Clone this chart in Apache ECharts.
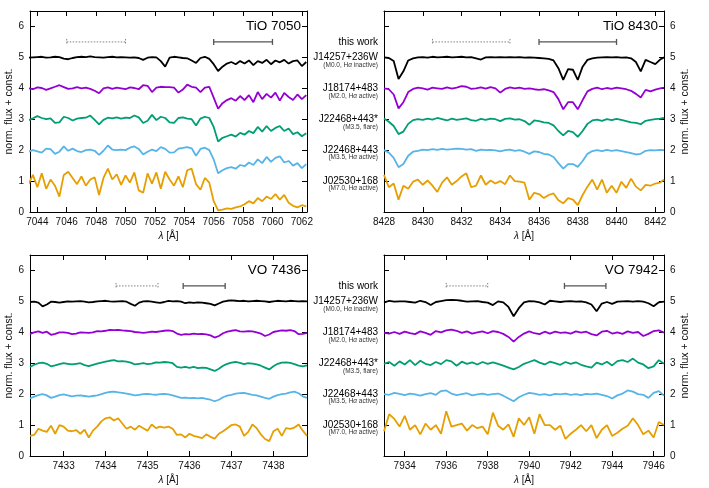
<!DOCTYPE html>
<html>
<head>
<meta charset="utf-8">
<title>TiO and VO band indices</title>
<script src="https://cdn.jsdelivr.net/npm/echarts@6.0.0/dist/echarts.min.js"></script>
<style>
  html, body { margin: 0; padding: 0; background: #fff; }
  #chart { width: 709px; height: 488px; }
</style>
</head>
<body>
<div id="chart"></div>
<script>
// ---- wavelength grids (Angstrom) ----
const wlTiO7050 = [
  7043.4, 7043.7, 7044.0, 7044.3, 7044.6, 7044.9, 7045.2, 7045.5, 7045.8, 7046.1,
  7046.4, 7046.7, 7047.0, 7047.3, 7047.6, 7047.9, 7048.2, 7048.5, 7048.8, 7049.1,
  7049.4, 7049.7, 7050.0, 7050.3, 7050.6, 7050.9, 7051.2, 7051.5, 7051.8, 7052.1,
  7052.4, 7052.7, 7053.0, 7053.3, 7053.6, 7053.9, 7054.2, 7054.5, 7054.8, 7055.1,
  7055.4, 7055.7, 7056.0, 7056.3, 7056.6, 7056.9, 7057.2, 7057.5, 7057.8, 7058.1,
  7058.4, 7058.7, 7059.0, 7059.3, 7059.6, 7059.9, 7060.2, 7060.5, 7060.8, 7061.1,
  7061.4, 7061.7, 7062.0, 7062.3
];
const wlTiO8430 = [
  8428.0, 8428.25, 8428.5, 8428.75, 8429.0, 8429.25, 8429.5, 8429.75, 8430.0, 8430.25,
  8430.5, 8430.75, 8431.0, 8431.25, 8431.5, 8431.75, 8432.0, 8432.25, 8432.5, 8432.75,
  8433.0, 8433.25, 8433.5, 8433.75, 8434.0, 8434.25, 8434.5, 8434.75, 8435.0, 8435.25,
  8435.5, 8435.75, 8436.0, 8436.25, 8436.5, 8436.75, 8437.0, 8437.25, 8437.5, 8437.75,
  8438.0, 8438.25, 8438.5, 8438.75, 8439.0, 8439.25, 8439.5, 8439.75, 8440.0, 8440.25,
  8440.5, 8440.75, 8441.0, 8441.25, 8441.5, 8441.75, 8442.0, 8442.25, 8442.45
];
const wlVO7436 = [
  7432.2, 7432.3, 7432.4, 7432.5, 7432.6, 7432.7, 7432.8, 7432.9, 7433.0, 7433.1,
  7433.2, 7433.3, 7433.4, 7433.5, 7433.6, 7433.7, 7433.8, 7433.9, 7434.0, 7434.1,
  7434.2, 7434.3, 7434.4, 7434.5, 7434.6, 7434.7, 7434.8, 7434.9, 7435.0, 7435.1,
  7435.2, 7435.3, 7435.4, 7435.5, 7435.6, 7435.7, 7435.8, 7435.9, 7436.0, 7436.1,
  7436.2, 7436.3, 7436.4, 7436.5, 7436.6, 7436.7, 7436.8, 7436.9, 7437.0, 7437.1,
  7437.2, 7437.3, 7437.4, 7437.5, 7437.6, 7437.7, 7437.8, 7437.9, 7438.0, 7438.1,
  7438.2, 7438.3, 7438.4, 7438.5, 7438.6, 7438.7, 7438.8
];
const wlVO7942 = [
  7933.0, 7933.25, 7933.5, 7933.75, 7934.0, 7934.25, 7934.5, 7934.75, 7935.0, 7935.25,
  7935.5, 7935.75, 7936.0, 7936.25, 7936.5, 7936.75, 7937.0, 7937.25, 7937.5, 7937.75,
  7938.0, 7938.25, 7938.5, 7938.75, 7939.0, 7939.25, 7939.5, 7939.75, 7940.0, 7940.25,
  7940.5, 7940.75, 7941.0, 7941.25, 7941.5, 7941.75, 7942.0, 7942.25, 7942.5, 7942.75,
  7943.0, 7943.25, 7943.5, 7943.75, 7944.0, 7944.25, 7944.5, 7944.75, 7945.0, 7945.25,
  7945.5, 7945.75, 7946.0, 7946.25, 7946.5
];

// ---- TiO 7050 : normalised flux + offset ----
const tio7050_J14257 = [
  4.99, 5.00, 5.01, 5.02, 4.99, 5.00, 5.02, 5.01, 4.96, 4.94,
  4.98, 5.01, 5.02, 5.01, 5.03, 5.01, 5.00, 4.99, 5.01, 5.02,
  5.00, 5.01, 5.00, 4.99, 5.00, 4.98, 4.92, 4.99, 5.01, 5.00,
  4.88, 4.70, 4.99, 5.02, 5.00, 4.98, 4.97, 4.90, 4.82, 4.98,
  5.02, 4.95, 4.78, 4.56, 4.70, 4.80, 4.85, 4.78, 4.88, 4.80,
  4.90, 4.75, 4.88, 4.82, 4.92, 4.78, 4.90, 4.84, 4.92, 4.80,
  4.88, 4.90, 4.72, 4.85
];
const tio7050_J18174 = [
  4.00, 3.97, 4.03, 4.01, 3.95, 4.00, 4.05, 4.10, 4.04, 3.98,
  4.00, 4.04, 4.00, 4.02, 3.98, 3.92, 3.84, 4.00, 4.03, 3.98,
  4.02, 4.00, 3.97, 4.03, 4.01, 3.97, 4.10, 4.08, 3.88, 4.02,
  4.05, 4.04, 4.04, 4.02, 3.86, 3.96, 4.12, 4.05, 4.02, 3.88,
  4.02, 4.05, 3.70, 3.34, 3.52, 3.62, 3.68, 3.60, 3.75, 3.62,
  3.78, 3.55, 3.88, 3.65, 3.82, 3.70, 3.86, 3.60, 3.85, 3.72,
  3.62, 3.80, 3.65, 3.78
];
const tio7050_J22468f = [
  2.97, 3.03, 3.10, 3.04, 3.00, 3.03, 2.88, 2.90, 3.08, 3.04,
  2.96, 3.02, 3.04, 3.05, 3.12, 2.98, 2.83, 2.98, 3.05, 3.03,
  3.06, 3.02, 3.05, 3.04, 3.12, 3.06, 2.88, 2.95, 3.14, 2.97,
  3.08, 3.04, 2.90, 2.88, 3.04, 3.06, 3.02, 3.00, 2.80, 3.02,
  3.08, 3.04, 2.75, 2.28, 2.40, 2.45, 2.50, 2.44, 2.56, 2.50,
  2.62, 2.55, 2.75, 2.60, 2.78, 2.62, 2.72, 2.78, 2.62, 2.70,
  2.52, 2.58, 2.45, 2.55
];
const tio7050_J22468 = [
  1.95, 2.00, 1.96, 1.92, 2.05, 2.03, 1.88, 1.95, 2.12, 1.98,
  2.05, 1.97, 1.94, 2.00, 2.02, 1.98, 1.85, 1.98, 2.15, 2.02,
  2.00, 2.02, 2.00, 2.08, 2.12, 2.04, 1.86, 1.95, 2.02, 1.97,
  2.10, 2.04, 1.92, 1.93, 2.05, 2.07, 2.10, 2.06, 1.82, 2.04,
  2.08, 2.00, 1.70, 1.25, 1.35, 1.42, 1.45, 1.40, 1.52, 1.48,
  1.60, 1.52, 1.70, 1.58, 1.78, 1.62, 1.75, 1.80, 1.60, 1.65,
  1.50, 1.58, 1.42, 1.55
];
const tio7050_J02530 = [
  0.90, 1.20, 0.80, 1.25, 0.75, 1.05, 0.85, 0.50, 1.20, 1.30,
  1.10, 0.90, 1.15, 0.85, 1.05, 1.12, 0.55, 1.10, 1.40, 1.05,
  1.22, 0.88, 1.18, 0.95, 1.28, 0.70, 0.62, 1.25, 0.92, 1.28,
  0.75, 1.30, 1.05, 0.85, 1.15, 0.80, 1.35, 1.40, 0.90, 0.72,
  1.10, 0.95, 0.35, 0.05, 0.08, 0.12, 0.10, 0.15, 0.18, 0.25,
  0.35, 0.28, 0.45, 0.35, 0.50, 0.42, 0.58, 0.40, 0.55, 0.30,
  0.20, 0.15, 0.22, 0.18
];

// ---- TiO 8430 ----
const tio8430_J14257 = [
  5.00, 4.98, 4.88, 4.30, 4.55, 4.90, 4.97, 5.00, 5.01, 4.99,
  5.02, 5.00, 5.01, 5.02, 5.00, 5.01, 5.02, 5.00, 5.01, 4.97,
  4.93, 5.00, 5.01, 5.00, 5.01, 5.00, 5.01, 5.00, 5.01, 4.99,
  5.00, 4.99, 4.98, 4.97, 4.95, 4.90, 4.65, 4.27, 4.62, 4.60,
  4.27, 4.70, 4.92, 4.97, 4.99, 5.00, 5.01, 5.00, 5.01, 4.99,
  5.00, 4.97, 4.85, 4.55, 4.92, 4.85, 4.78, 4.93, 5.00
];
const tio8430_J18174 = [
  4.00, 3.97, 3.80, 3.35, 3.55, 3.88, 3.98, 4.02, 4.00, 3.96,
  4.02, 4.00, 3.98, 4.03, 3.99, 4.02, 4.07, 4.05, 3.98, 4.00,
  4.03, 3.99, 4.04, 4.00, 3.86, 3.98, 4.03, 4.00, 4.02, 3.98,
  4.00, 3.97, 3.95, 3.97, 3.93, 3.88, 3.65, 3.32, 3.55, 3.55,
  3.32, 3.62, 3.90, 3.98, 4.02, 3.97, 4.01, 3.98, 4.02, 4.00,
  3.97, 3.92, 3.82, 3.70, 3.95, 3.90, 3.96, 4.00, 4.02
];
const tio8430_J22468f = [
  3.02, 2.92, 2.78, 2.52, 2.60, 2.85, 2.97, 3.00, 2.98, 3.02,
  2.99, 3.04, 3.00, 2.96, 3.02, 2.98, 3.00, 3.03, 2.97, 2.95,
  3.01, 2.98, 3.02, 3.00, 2.94, 3.01, 3.03, 2.99, 3.00, 2.94,
  2.82, 2.96, 2.94, 2.90, 2.88, 2.80, 2.62, 2.48, 2.62, 2.58,
  2.43, 2.62, 2.85, 2.96, 2.99, 2.95, 3.00, 2.97, 3.01, 2.98,
  2.94, 2.90, 2.88, 2.84, 2.95, 2.98, 3.00, 3.02, 3.04
];
const tio8430_J22468 = [
  2.00, 1.92, 1.75, 1.45, 1.55, 1.82, 1.95, 1.98, 2.02, 2.00,
  2.03, 2.01, 2.04, 2.02, 2.03, 2.05, 2.04, 2.02, 2.03, 1.98,
  2.02, 2.00, 2.01, 1.99, 1.96, 2.00, 2.02, 1.98, 2.00, 1.95,
  1.88, 1.96, 1.94, 1.88, 1.86, 1.78, 1.58, 1.40, 1.55, 1.55,
  1.46, 1.65, 1.88, 1.97, 2.00, 1.97, 2.01, 1.98, 2.00, 1.97,
  1.94, 1.90, 1.86, 1.88, 1.98, 2.00, 1.99, 2.01, 2.00
];
const tio8430_J02530 = [
  1.20, 0.80, 0.92, 0.40, 0.85, 0.75, 0.98, 1.05, 0.88, 1.02,
  0.85, 0.65, 0.95, 1.12, 0.88, 1.00, 1.15, 1.25, 0.80, 0.85,
  1.18, 0.88, 1.02, 0.92, 1.00, 0.90, 1.18, 1.00, 0.98, 0.95,
  0.40, 0.62, 0.58, 0.45, 0.55, 0.60, 0.38, 0.28, 0.45, 0.40,
  0.22, 0.55, 0.82, 1.05, 0.72, 1.05, 0.62, 0.85, 0.62, 0.98,
  0.78, 1.08, 0.82, 0.70, 0.88, 0.85, 0.92, 0.95, 1.05
];

// ---- VO 7436 ----
const vo7436_J14257 = [
  4.98, 4.99, 4.96, 4.84, 4.90, 4.99, 4.98, 4.96, 4.98, 5.00,
  4.99, 5.00, 5.01, 4.99, 4.97, 4.98, 5.00, 5.01, 5.02, 5.00,
  4.99, 5.00, 5.01, 4.99, 4.92, 4.86, 4.96, 5.00, 5.01, 4.99,
  4.97, 4.95, 4.98, 5.02, 5.00, 5.01, 4.99, 4.94, 4.97, 4.95,
  4.97, 4.96, 4.94, 4.92, 4.87, 4.93, 4.99, 5.02, 5.03, 5.02,
  5.01, 5.02, 5.00, 5.01, 5.02, 5.01, 5.00, 4.98, 5.00, 5.02,
  5.01, 5.00, 5.02, 5.01, 5.00, 5.01, 5.00
];
const vo7436_J18174 = [
  3.95, 4.00, 4.03, 3.98, 4.02, 3.92, 3.95, 4.00, 4.00, 3.98,
  3.94, 3.96, 4.00, 3.99, 3.98, 4.00, 4.04, 4.03, 4.05, 4.08,
  4.07, 4.08, 4.06, 4.05, 4.04, 4.01, 4.00, 3.98, 4.00, 4.02,
  4.01, 4.03, 4.05, 4.06, 4.04, 3.96, 3.92, 3.94, 3.93, 3.96,
  3.94, 3.95, 3.93, 3.90, 3.83, 3.88, 3.97, 4.02, 4.05, 4.07,
  4.03, 4.02, 4.04, 4.03, 4.00, 3.96, 3.88, 3.93, 4.01, 4.04,
  4.06, 4.05, 4.07, 4.04, 3.94, 3.95, 3.98
];
const vo7436_J22468f = [
  2.88, 2.95, 3.00, 3.02, 2.98, 2.90, 2.93, 2.97, 3.00, 2.98,
  2.96, 2.98, 3.00, 2.94, 2.91, 2.95, 2.99, 3.02, 3.05, 3.08,
  3.10, 3.06, 3.07, 3.05, 3.02, 2.96, 2.98, 3.00, 2.97, 2.99,
  3.03, 3.02, 3.04, 3.03, 3.00, 2.88, 2.86, 2.88, 2.85, 2.88,
  2.84, 2.86, 2.85, 2.80, 2.75, 2.82, 2.92, 2.98, 3.02, 3.04,
  3.01, 2.97, 3.00, 2.99, 2.96, 2.92, 2.86, 2.80, 2.90, 2.98,
  3.02, 3.03, 3.01, 2.97, 2.92, 2.90, 2.93
];
const vo7436_J22468 = [
  1.86, 1.92, 1.97, 2.00, 1.96, 1.88, 1.92, 1.97, 1.99, 1.96,
  1.93, 1.95, 1.96, 1.94, 1.92, 1.94, 1.96, 2.00, 2.04, 2.07,
  2.08, 2.06, 2.04, 2.02, 1.99, 1.96, 1.98, 2.00, 2.01, 1.99,
  1.98, 2.00, 2.01, 1.99, 1.96, 1.92, 1.88, 1.89, 1.87, 1.88,
  1.86, 1.88, 1.85, 1.82, 1.77, 1.82, 1.90, 1.95, 1.98, 2.02,
  2.03, 2.04, 2.01, 1.98, 1.96, 1.92, 1.88, 1.85, 1.92, 1.97,
  2.00, 2.02, 2.06, 2.08, 2.03, 1.93, 1.88
];
const vo7436_J02530 = [
  0.65, 0.68, 0.88, 0.82, 0.78, 0.98, 0.72, 1.00, 0.95, 0.82,
  0.80, 0.84, 0.72, 0.85, 0.60, 0.82, 0.95, 1.12, 1.22, 1.25,
  1.15, 1.22, 1.05, 0.88, 0.95, 0.85, 0.98, 0.90, 0.82, 1.02,
  0.90, 0.95, 0.92, 0.95, 0.88, 0.68, 0.70, 0.60, 0.72, 0.65,
  0.62, 0.58, 0.70, 0.62, 0.56, 0.72, 0.80, 0.90, 1.00, 1.02,
  0.95, 0.65, 0.78, 1.02, 0.90, 0.70, 0.55, 0.48, 0.80, 0.88,
  0.65, 0.90, 0.88, 0.92, 1.02, 0.82, 0.65
];

// ---- VO 7942 ----
const vo7942_J14257 = [
  4.96, 5.02, 4.99, 5.00, 5.00, 4.98, 4.96, 5.02, 4.98, 4.88,
  4.98, 5.01, 5.04, 5.05, 5.04, 5.02, 4.99, 5.00, 5.01, 4.98,
  4.96, 4.88, 5.00, 4.97, 4.82, 4.52, 4.78, 4.97, 5.01, 5.00,
  4.97, 4.90, 5.02, 5.00, 4.98, 5.00, 5.01, 4.99, 5.00, 4.97,
  4.90, 4.68, 4.93, 4.98, 4.92, 4.99, 5.00, 5.01, 4.99, 5.01,
  4.99, 4.94, 4.84, 4.97, 4.99
];
const vo7942_J18174 = [
  3.98, 3.96, 4.01, 3.95, 4.02, 3.97, 3.94, 4.03, 3.98, 3.92,
  4.04, 4.00, 4.06, 4.09, 4.05, 3.98, 4.03, 3.96, 4.00, 4.03,
  3.97, 4.04, 4.01, 3.95, 3.85, 3.70, 3.85, 3.96, 4.03, 3.97,
  3.94, 4.02, 3.96, 4.02, 3.98, 4.00, 3.96, 4.03, 3.99, 4.02,
  3.94, 3.90, 4.02, 4.05, 3.96, 4.00, 3.95, 4.03, 3.98, 4.01,
  3.88, 3.95, 4.04, 4.06, 3.99
];
const vo7942_J22468f = [
  2.98, 3.04, 2.92, 3.06, 2.96, 3.10, 2.94, 3.08, 2.98, 2.94,
  3.04, 2.97, 3.10, 3.06, 2.92, 3.05, 2.98, 3.03, 2.96, 3.04,
  2.98, 3.03, 2.98, 2.92, 2.86, 2.80, 2.88, 2.98, 3.04, 3.10,
  3.02, 2.96, 3.05, 3.00, 2.95, 3.04, 2.98, 3.03, 2.95, 2.90,
  2.86, 3.02, 2.96, 3.05, 2.93, 3.07, 3.10, 3.04, 3.15, 3.02,
  2.96, 2.84, 2.90, 3.10, 2.98
];
const vo7942_J22468 = [
  2.00, 1.98, 2.04, 2.01, 1.97, 2.02, 1.99, 1.95, 2.00, 2.03,
  1.98, 2.10, 2.12, 2.02, 1.97, 2.00, 2.03, 1.96, 1.99, 2.02,
  1.98, 2.00, 2.02, 1.95, 1.86, 1.77, 1.90, 1.98, 2.04, 2.02,
  1.98, 2.00, 1.96, 2.01, 1.99, 2.02, 1.98, 2.00, 1.97, 2.01,
  1.99, 2.02, 1.98, 1.94, 1.86, 1.96, 2.02, 2.12, 2.08, 2.00,
  1.98, 1.88, 2.04, 2.10, 1.95
];
const vo7942_J02530 = [
  0.80, 1.35, 1.20, 0.95, 1.30, 0.85, 1.00, 0.70, 1.05, 0.85,
  1.00, 0.72, 1.45, 0.95, 1.00, 1.05, 0.82, 1.00, 0.90, 0.95,
  0.70, 1.40, 0.98, 0.85, 1.02, 0.62, 1.22, 1.00, 1.25, 0.72,
  1.35, 1.00, 1.00, 0.85, 0.98, 0.55, 0.72, 0.85, 1.00, 0.80,
  1.00, 0.58, 0.85, 1.00, 0.65, 0.75, 0.88, 0.98, 1.22, 1.00,
  0.70, 0.82, 0.60, 1.10, 1.00
];

// continuum (dotted) and band (solid) windows used in this work
const contTiO7050 = [7046, 7050], bandTiO7050 = [7056, 7060];
const contTiO8430 = [8430.5, 8434.5], bandTiO8430 = [8436, 8440];
const contVO7436 = [7434.25, 7435.25], bandVO7436 = [7435.85, 7436.85];
const contVO7942 = [7936, 7938], bandVO7942 = [7941.7, 7943.7];
const windowLevel = 5.5;

const starNames = ['J14257+236W', 'J18174+483', 'J22468+443*', 'J22468+443', 'J02530+168'];
const starNotes = ['(M0.0, H{i|α} inactive)', '(M2.0, H{i|α} active)', '(M3.5, flare)',
  '(M3.5, H{i|α} active)', '(M7.0, H{i|α} active)'];
const starOffsets = [5, 4, 3, 2, 1];
const colors = ['#000000', '#9400d3', '#009e73', '#56b4e9', '#e69f00'];
const yTicks = [0, 1, 2, 3, 4, 5, 6];

const FONT = '"Liberation Sans", Arial, Helvetica, sans-serif';

const panels = [
  { title: 'TiO 7050', wl: wlTiO7050, min: 7043.5, max: 7062.35, step: 2, cont: contTiO7050, band: bandTiO7050,
    flux: [tio7050_J14257, tio7050_J18174, tio7050_J22468f, tio7050_J22468, tio7050_J02530],
    grid: { left: 30, top: 11, width: 277, height: 201 }, side: 'left' },
  { title: 'TiO 8430', wl: wlTiO8430, min: 8428, max: 8442.45, step: 2, cont: contTiO8430, band: bandTiO8430,
    flux: [tio8430_J14257, tio8430_J18174, tio8430_J22468f, tio8430_J22468, tio8430_J02530],
    grid: { left: 384, top: 11, width: 280, height: 201 }, side: 'right' },
  { title: 'VO 7436', wl: wlVO7436, min: 7432.2, max: 7438.8, step: 1, cont: contVO7436, band: bandVO7436,
    flux: [vo7436_J14257, vo7436_J18174, vo7436_J22468f, vo7436_J22468, vo7436_J02530],
    grid: { left: 30, top: 255, width: 277, height: 201 }, side: 'left' },
  { title: 'VO 7942', wl: wlVO7942, min: 7933.0, max: 7946.5, step: 2, cont: contVO7942, band: bandVO7942,
    flux: [vo7942_J14257, vo7942_J18174, vo7942_J22468f, vo7942_J22468, vo7942_J02530],
    grid: { left: 384, top: 255, width: 280, height: 201 }, side: 'right' }
];

function onStep(v, step) {
  return Math.abs(v / step - Math.round(v / step)) < 1e-6;
}

const axisLine = { show: true, onZero: false, lineStyle: { color: '#000', width: 1 } };
const axisTick = { show: true, inside: true, length: 5, lineStyle: { color: '#000', width: 1 } };

const grids = [], xAxes = [], yAxes = [], series = [];

panels.forEach((p, g) => {
  grids.push(Object.assign({ outerBoundsMode: 'none', containLabel: false }, p.grid));

  const xBase = {
    type: 'value', gridIndex: g, min: p.min, max: p.max,
    minInterval: p.step, maxInterval: p.step, splitNumber: 8,
    axisLine, axisTick, splitLine: { show: false }
  };
  xAxes.push(Object.assign({}, xBase, {
    position: 'bottom',
    axisLabel: {
      color: '#111', fontSize: 10, fontFamily: FONT, margin: 5,
      formatter: v => (onStep(v, p.step) ? String(Math.round(v)) : '')
    },
    name: '{i|λ} [Å]', nameLocation: 'middle', nameGap: 19,
    nameTextStyle: {
      color: '#111', fontSize: 10, fontFamily: FONT,
      rich: { i: { fontStyle: 'italic', fontSize: 10, fontFamily: FONT, color: '#111' } }
    }
  }));
  xAxes.push(Object.assign({}, xBase, { position: 'top', axisLabel: { show: false } }));

  const yBase = {
    type: 'value', gridIndex: g, min: 0, max: 6.5, interval: 1,
    axisLine, axisTick, splitLine: { show: false }
  };
  const yName = {
    name: 'norm. flux + const.', nameLocation: 'middle', nameRotate: 90,
    nameTextStyle: { color: '#111', fontSize: 10.5, fontFamily: FONT }
  };
  const yLabel = {
    color: '#111', fontSize: 10, fontFamily: FONT, margin: 6,
    formatter: v => (yTicks.indexOf(v) >= 0 ? String(v) : '')
  };
  yAxes.push(Object.assign({}, yBase, { position: 'left' },
    p.side === 'left' ? Object.assign({ axisLabel: yLabel, nameGap: 12 }, yName) : { axisLabel: { show: false } }));
  yAxes.push(Object.assign({}, yBase, { position: 'right' },
    p.side === 'right' ? Object.assign({ axisLabel: yLabel, nameGap: 15 }, yName) : { axisLabel: { show: false } }));

  p.flux.forEach((f, k) => {
    series.push({
      type: 'line', name: starNames[k] + ' ' + p.title,
      xAxisIndex: 2 * g, yAxisIndex: 2 * g,
      data: p.wl.map((x, i) => [x, f[i]]),
      showSymbol: false, symbol: 'none', clip: true, silent: true,
      lineStyle: { color: colors[k], width: 1.8 },
      z: 3 + (4 - k)
    });
  });

  [[p.cont, true], [p.band, false]].forEach(([win, dotted]) => {
    series.push({
      type: 'custom', xAxisIndex: 2 * g, yAxisIndex: 2 * g, silent: true,
      data: [[win[0], win[1], windowLevel]],
      encode: { x: [0, 1], y: 2 },
      renderItem: (params, api) => {
        const a = api.coord([api.value(0), api.value(2)]);
        const b = api.coord([api.value(1), api.value(2)]);
        const style = dotted
          ? { stroke: '#808080', lineWidth: 1, lineDash: [1.5, 1.5], fill: null }
          : { stroke: '#555555', lineWidth: 1.3, fill: null };
        return {
          type: 'group',
          children: [
            { type: 'line', shape: { x1: a[0], y1: a[1], x2: b[0], y2: b[1] }, style },
            { type: 'line', shape: { x1: a[0], y1: a[1] - 3, x2: a[0], y2: a[1] + 3 }, style },
            { type: 'line', shape: { x1: b[0], y1: b[1] - 3, x2: b[0], y2: b[1] + 3 }, style }
          ]
        };
      }
    });
  });
});

const chart = echarts.init(document.getElementById('chart'), null, { renderer: 'canvas' });
chart.setOption({
  animation: false,
  backgroundColor: '#ffffff',
  textStyle: { fontFamily: FONT },
  grid: grids,
  xAxis: xAxes,
  yAxis: yAxes,
  series: series
});

// panel titles and the star labels between the columns
const graphics = [];
panels.forEach((p, g) => {
  const pt = chart.convertToPixel({ gridIndex: g }, [p.max, 6]);
  graphics.push({
    type: 'text', x: pt[0] - 6, y: pt[1], z: 10,
    style: { text: p.title, align: 'right', verticalAlign: 'middle', fontSize: 13.5, fontFamily: FONT, fill: '#000' }
  });
});
[1, 3].forEach(g => {
  const p = panels[g];
  const xr = p.grid.left - 6;
  const tw = chart.convertToPixel({ gridIndex: g }, [p.min, windowLevel]);
  graphics.push({
    type: 'text', x: xr, y: tw[1],
    style: { text: 'this work', align: 'right', verticalAlign: 'middle', fontSize: 10, fontFamily: FONT, fill: '#000' }
  });
  starNames.forEach((nm, k) => {
    const yy = chart.convertToPixel({ gridIndex: g }, [p.min, starOffsets[k]])[1];
    graphics.push({
      type: 'text', x: xr, y: yy,
      style: { text: nm, align: 'right', verticalAlign: 'middle', fontSize: 10, fontFamily: FONT, fill: '#000' }
    });
    graphics.push({
      type: 'text', x: xr, y: yy + 7.5,
      style: {
        text: starNotes[k], align: 'right', verticalAlign: 'middle', fontSize: 6.5, fontFamily: FONT, fill: '#333',
        rich: { i: { fontStyle: 'italic', fontSize: 6.5, fontFamily: FONT, fill: '#333' } }
      }
    });
  });
});
chart.setOption({ graphic: graphics });
</script>
</body>
</html>
